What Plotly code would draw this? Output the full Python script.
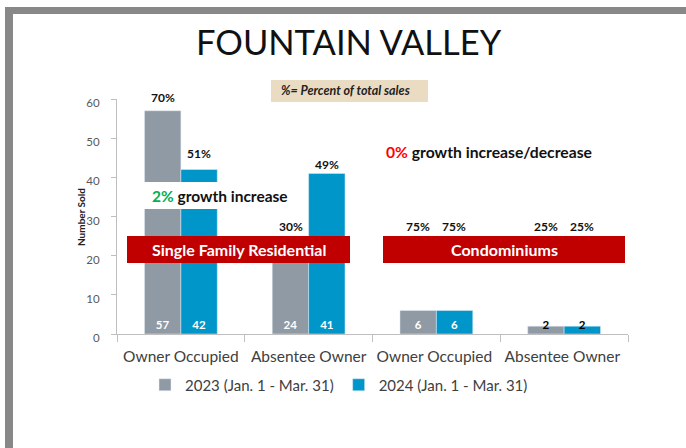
import plotly.graph_objects as go

# ---- data ----
categories = ["Owner Occupied", "Absentee Owner", "Owner Occupied ", "Absentee Owner "]
series_2023_name = "2023 (Jan. 1 - Mar. 31)"
series_2024_name = "2024 (Jan. 1 - Mar. 31)"
sold_2023 = [57, 24, 6, 2]
sold_2024 = [42, 41, 6, 2]
pct_2023 = ["70%", "30%", "75%", "25%"]
pct_2024 = ["51%", "49%", "75%", "25%"]
y_ticks = [0, 10, 20, 30, 40, 50, 60]

GRAY = "#8F9AA5"
BLUE = "#0096C9"
RED = "#C00000"
FONT = "Lato"

W, H = 686, 448
PL, PR, PT, PB = 117, 628, 99, 334  # plot area in pixels


def px(x):
    return (x - PL) / (PR - PL)


def py(y):
    return (PB - y) / (PB - PT)


def label_color(v):
    return "white" if v >= 5 else "black"


fig = go.Figure()
for name, vals, col in [(series_2023_name, sold_2023, GRAY), (series_2024_name, sold_2024, BLUE)]:
    fig.add_trace(go.Bar(
        name=name, x=categories, y=vals, marker_color=col,
        text=[str(v) for v in vals], textposition="inside", insidetextanchor="start",
        constraintext="none", textangle=0,
        insidetextfont=dict(family=FONT, size=11.5, color=[label_color(v) for v in vals], weight="bold"),
    ))

# percent labels above bars (pixel rows of the labels)
pct_py_2023 = [97, 226, 226, 226]
pct_py_2024 = [153, 164, 226, 226]
annotations = []
for i, c in enumerate(categories):
    annotations.append(dict(x=c, y=py(pct_py_2023[i]), xref="x", yref="paper", text="<b>%s</b>" % pct_2023[i],
                            showarrow=False, xshift=-18, xanchor="center", yanchor="middle",
                            font=dict(family=FONT, size=12, color="#111111")))
    annotations.append(dict(x=c, y=py(pct_py_2024[i]), xref="x", yref="paper", text="<b>%s</b>" % pct_2024[i],
                            showarrow=False, xshift=18, xanchor="center", yanchor="middle",
                            font=dict(family=FONT, size=12, color="#111111")))

shapes = [
    # frame
    dict(type="rect", xref="paper", yref="paper", x0=px(5), x1=px(13), y0=py(448), y1=py(7),
         fillcolor="#888888", line_width=0, layer="below"),
    dict(type="rect", xref="paper", yref="paper", x0=px(5), x1=px(686), y0=py(14), y1=py(7),
         fillcolor="#888888", line_width=0, layer="below"),
    # white band over first group
    dict(type="rect", xref="paper", yref="paper", x0=px(143), x1=px(296), y0=py(209), y1=py(182),
         fillcolor="white", line_width=0, layer="above"),
    # red banners
    dict(type="rect", xref="paper", yref="paper", x0=px(127), x1=px(350), y0=py(263), y1=py(236),
         fillcolor=RED, line_width=0, layer="above"),
    dict(type="rect", xref="paper", yref="paper", x0=px(383), x1=px(625), y0=py(263), y1=py(236),
         fillcolor=RED, line_width=0, layer="above"),
    # tan note box
    dict(type="rect", xref="paper", yref="paper", x0=px(271), x1=px(428), y0=py(102), y1=py(80),
         fillcolor="#EADCC3", line_width=0, layer="above"),
]


def note(x, y, text, size, color, angle=0):
    return dict(x=px(x), y=py(y), xref="paper", yref="paper", text=text, showarrow=False, textangle=angle,
                xanchor="center", yanchor="middle", font=dict(family=FONT, size=size, color=color))


annotations += [
    note(349, 42, "FOUNTAIN VALLEY", 34.5, "#111111"),
    note(345, 91, "<b><i>%= Percent of total sales</i></b>", 12.5, "#222222"),
    note(220, 196, "<b><span style='color:#00B050'>2%</span> growth increase</b>", 15.5, "#111111"),
    note(488.5, 152, "<b><span style='color:#FF0000'>0%</span> growth increase/decrease</b>", 15.7, "#111111"),
    note(239, 249.5, "<b>Single Family Residential</b>", 16, "white"),
    note(504, 249.5, "<b>Condominiums</b>", 16, "white"),
    note(81, 217, "<b>Number Sold</b>", 10, "#222222", angle=-90),
]

fig.update_layout(
    width=W, height=H,
    margin=dict(l=PL, r=W - PR, t=PT, b=H - PB, pad=0),
    paper_bgcolor="white", plot_bgcolor="white",
    barmode="group", bargap=0.43, bargroupgap=0,
    font=dict(family=FONT, color="#404040"),
    shapes=shapes, annotations=annotations,
    legend=dict(orientation="h", x=px(339), xanchor="center", y=py(385), yanchor="middle",
                font=dict(family=FONT, size=15, color="#404040"), bgcolor="rgba(0,0,0,0)"),
    xaxis=dict(type="category", tickson="boundaries", ticks="outside", ticklen=7, tickcolor="#BFBFBF",
               showline=True, linecolor="#BFBFBF", linewidth=1, showgrid=False, ticklabelstandoff=8,
               tickangle=0, tickfont=dict(family=FONT, size=15.5, color="#404040")),
    yaxis=dict(range=[0, 60], tickvals=y_ticks, ticks="outside", ticklen=5, tickcolor="#BFBFBF",
               showline=True, linecolor="#BFBFBF", linewidth=1, showgrid=False, zeroline=False,
               ticklabelstandoff=9, ticklabelshift=4,
               tickfont=dict(family=FONT, size=11.5, color="#595959")),
)

fig.write_html("out.html", config={"displayModeBar": False},
               post_script="document.body.style.margin='0';document.body.style.overflow='hidden';")
